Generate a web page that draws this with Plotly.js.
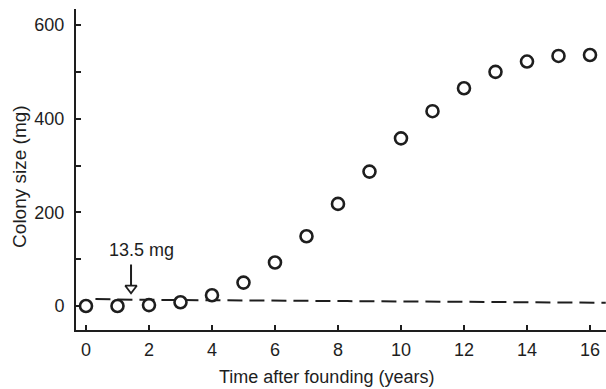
<!DOCTYPE html>
<html>
<head>
<meta charset="utf-8">
<script src="https://cdn.plot.ly/plotly-3.0.1.min.js"></script>
<style>html,body{margin:0;padding:0;background:#fff;}#chart{width:606px;height:389px;}</style>
</head>
<body>
<div id="chart"></div>
<script>
// Data
const years = [0, 1, 2, 3, 4, 5, 6, 7, 8, 9, 10, 11, 12, 13, 14, 15, 16];
const colonySize = [0, 0, 2, 8, 23, 50, 93, 149, 218, 287, 358, 416, 465, 500, 522, 534, 536];
const thresholdX = [0.3, 1.5, 8.3, 16.5];
const thresholdY = [15, 13.5, 10.5, 7];
const arrowLabel = "13.5 mg";
const arrowX = [1.43];
const arrowHeadY = [38];
const arrowShaftTop = 92;
const arrowShaftEnd = 44;
const labelX = 1.75;
const labelY = 120;
const xTicks = [0, 2, 4, 6, 8, 10, 12, 14, 16];
const yTicks = [0, 200, 400, 600];
const xTitle = 'Time after founding (years)';
const yTitle = 'Colony size (mg)';

const ink = '#1e1e1e';
const fontFam = 'Liberation Sans, Arial, Helvetica, sans-serif';

const traces = [
  {
    x: thresholdX, y: thresholdY, type: 'scatter', mode: 'lines',
    line: {color: ink, width: 2, dash: '15px,7px'},
    hoverinfo: 'skip', showlegend: false
  },
  {
    x: years, y: colonySize, type: 'scatter', mode: 'markers',
    marker: {symbol: 'circle', size: 12, color: '#ffffff', line: {color: ink, width: 2.6}},
    showlegend: false
  },
  {
    x: arrowX, y: arrowHeadY, type: 'scatter', mode: 'markers',
    marker: {symbol: 'triangle-down', size: 10, color: '#ffffff', line: {color: ink, width: 1.8}},
    hoverinfo: 'skip', showlegend: false
  }
];

const layout = {
  width: 606, height: 389,
  margin: {l: 76, r: 0, t: 9, b: 59},
  paper_bgcolor: '#fff', plot_bgcolor: '#fff',
  font: {family: fontFam, size: 18, color: ink},
  showlegend: false,
  xaxis: {
    range: [-0.317, 16.508],
    tickvals: xTicks, ticktext: xTicks.map(String),
    ticks: 'inside', ticklen: 5, tickwidth: 2, tickcolor: ink,
    showline: true, linewidth: 2, linecolor: ink,
    showgrid: false, zeroline: false,
    ticklabelstandoff: 2,
    tickfont: {size: 18}
  },
  yaxis: {
    range: [-51.2, 634.2],
    tickvals: yTicks, ticktext: yTicks.map(String),
    ticks: 'inside', ticklen: 5, tickwidth: 2, tickcolor: ink,
    minor: {dtick: 100, tick0: 0, ticks: 'inside', ticklen: 5, tickwidth: 2, tickcolor: ink},
    showline: true, linewidth: 2, linecolor: ink,
    showgrid: false, zeroline: false,
    ticklabelstandoff: 6,
    tickfont: {size: 18}
  },
  annotations: [
    {
      x: arrowX[0], y: arrowShaftEnd, xref: 'x', yref: 'y',
      ax: arrowX[0], ay: arrowShaftTop, axref: 'x', ayref: 'y',
      text: '', showarrow: true, arrowhead: 0, arrowwidth: 2, arrowcolor: ink
    },
    {
      x: labelX, y: labelY, xref: 'x', yref: 'y',
      text: arrowLabel, showarrow: false,
      font: {size: 18, color: ink}
    },
    {
      x: 0.4717, y: -0.146, xref: 'paper', yref: 'paper',
      xanchor: 'center', yanchor: 'middle',
      text: xTitle, showarrow: false, font: {size: 18, color: ink}
    },
    {
      x: -0.1057, y: 0.48, xref: 'paper', yref: 'paper',
      xanchor: 'center', yanchor: 'middle', textangle: -90,
      text: yTitle, showarrow: false, font: {size: 19, color: ink}
    }
  ]
};

Plotly.newPlot('chart', traces, layout, {displayModeBar: false, staticPlot: true});
</script>
</body>
</html>
